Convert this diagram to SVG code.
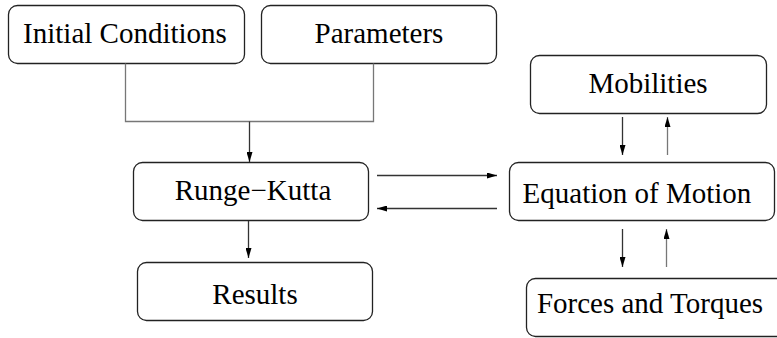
<svg xmlns="http://www.w3.org/2000/svg" width="777" height="338" viewBox="0 0 777 338">
<defs>
<style>
.box{fill:#fff;stroke:#222;stroke-width:1.3}
.c{fill:none;stroke:#333;stroke-width:1.3}
.g{fill:none;stroke:#777;stroke-width:1.3}
</style>
<marker id="ah" viewBox="0 0 10 6" refX="10" refY="3" markerWidth="10" markerHeight="6" markerUnits="userSpaceOnUse" orient="auto">
<path d="M0,0 L10,3 L0,6 Z" fill="#000"/>
</marker>
</defs>
<rect width="777" height="338" fill="#fff"/>
<g id="initial"><rect class="box" x="8.5" y="5.5" width="236" height="58" rx="9"/><text font-family="Liberation Serif" font-size="29" text-anchor="middle" x="125" y="43">Initial Conditions</text></g>
<g id="parameters"><rect class="box" x="261.5" y="5.5" width="235" height="58" rx="9"/><text font-family="Liberation Serif" font-size="29" text-anchor="middle" x="379" y="43">Parameters</text></g>
<g id="runge"><rect class="box" x="133.5" y="162.5" width="235" height="58" rx="9"/><text font-family="Liberation Serif" font-size="29" text-anchor="middle" x="253" y="200">Runge&#8722;Kutta</text></g>
<g id="results"><rect class="box" x="137.5" y="262.5" width="235" height="58" rx="9"/><text font-family="Liberation Serif" font-size="29" text-anchor="middle" x="255" y="304">Results</text></g>
<g id="mobilities"><rect class="box" x="530.5" y="55.5" width="236" height="58" rx="9"/><text font-family="Liberation Serif" font-size="29" text-anchor="middle" x="648" y="93">Mobilities</text></g>
<g id="equation"><rect class="box" x="509.5" y="162.5" width="265" height="58" rx="9"/><text font-family="Liberation Serif" font-size="29" text-anchor="middle" x="637" y="203">Equation of Motion</text></g>
<g id="forces"><rect class="box" x="526.5" y="278.5" width="260" height="58" rx="9"/><text font-family="Liberation Serif" font-size="29" text-anchor="middle" x="650" y="313">Forces and Torques</text></g>
<g id="connectors">
<path class="g" d="M125.5,63.5 V121.5 H373.5 V63.5"/>
<path class="c" d="M249.5,121.5 V162" marker-end="url(#ah)"/>
<path class="c" d="M248.5,221 V258" marker-end="url(#ah)"/>
<path class="c" d="M377,175.5 H497" marker-end="url(#ah)"/>
<path class="c" d="M497,208.5 H377" marker-end="url(#ah)"/>
<path class="c" d="M622.5,117 V155" marker-end="url(#ah)"/>
<path class="g" d="M667.5,155 V117" marker-end="url(#ah)"/>
<path class="c" d="M622.5,229 V267" marker-end="url(#ah)"/>
<path class="g" d="M666.5,267 V229" marker-end="url(#ah)"/>
</g>
</svg>
